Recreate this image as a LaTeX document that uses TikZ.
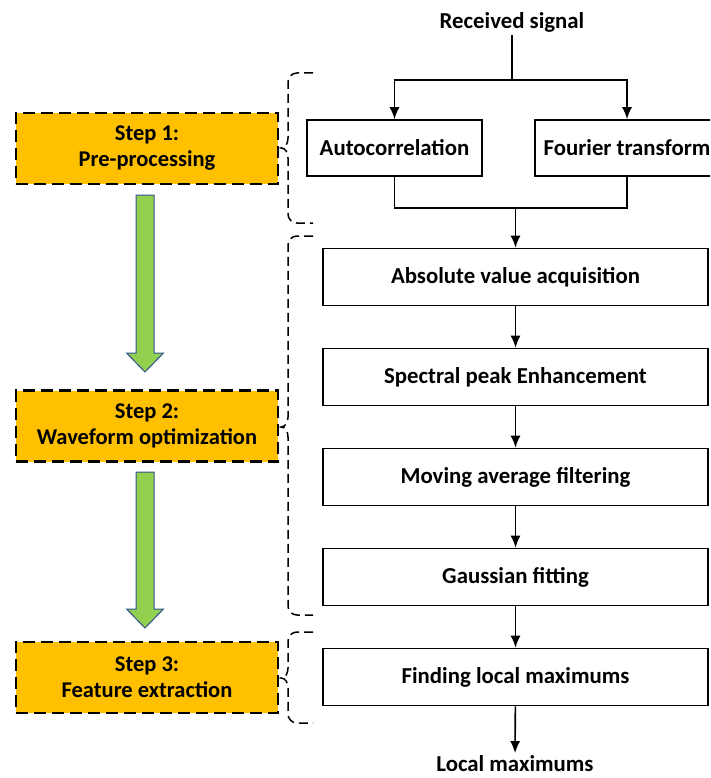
\documentclass[tikz,border=0pt]{standalone}
\usepackage{fontspec}
\setmainfont{Carlito}
\usetikzlibrary{arrows.meta,positioning}
\definecolor{stepgold}{HTML}{FFC000}
\definecolor{arrowgreen}{HTML}{92D050}
\definecolor{arrowedge}{HTML}{2F528F}

\begin{document}
\begin{tikzpicture}[x=1pt,y=-1pt,
    node distance=41.4pt,
    proc/.style={draw,line width=1.6pt,minimum width=385pt,minimum height=57pt,
      align=center,font=\bfseries\fontsize{22.8}{26}\selectfont},
    stepbox/.style={draw,fill=stepgold,line width=2.8pt,dash pattern=on 12pt off 6pt,
      minimum width=262pt,minimum height=71pt,align=center,
      font=\bfseries\fontsize{22.5}{26}\selectfont},
    lbl/.style={inner sep=2pt,font=\bfseries\fontsize{22.8}{26}\selectfont},
    bracket/.style={line width=1.5pt,dash pattern=on 9pt off 5pt},
    line width=1.6pt,
    >={Latex[length=12pt,width=10pt]}]
  \useasboundingbox (0,0) rectangle (710,778);
  \clip (0,0) rectangle (710,778);
  % steps on the left
  \node[stepbox] (step1) at (147,148.5) {Step 1:\\Pre-processing};
  \node[stepbox] (step2) at (147,426) {Step 2:\\Waveform optimization};
  \node[stepbox] (step3) at (147,677.5) {Step 3:\\Feature extraction};
  \foreach \top/\tip in {195/372, 472/628}
    \filldraw[fill=arrowgreen,draw=arrowedge,line width=1pt]
      (136,\top) -- (154,\top) -- (154,{\tip-19}) -- (163.5,{\tip-19}) -- (145,\tip)
      -- (126.5,{\tip-19}) -- (136,{\tip-19}) -- cycle;
  % brackets
  \foreach \top/\mid/\bot in {73/148/223, 236/427/615, 632/678/723}
    \draw[bracket] (313,\top) -- (297,\top) to[out=180,in=90] (288,{\top+9})
      -- (288,{\mid-10}) to[out=-90,in=0] (281,\mid) to[out=0,in=90] (288,{\mid+10})
      -- (288,{\bot-9}) to[out=-90,in=180] (297,\bot) -- (313,\bot);
  % processing chain
  \node[lbl] (rcv) at (512,22) {Received signal};
  \node[proc,minimum width=175pt,minimum height=56pt] (auto) at (394.5,148) {Autocorrelation};
  \node[proc,minimum width=184pt,minimum height=56pt] (fourier) at (627,148) {Fourier transform};
  \node[proc] (absval) at (515.5,277) {Absolute value acquisition};
  \node[proc,below=of absval] (peak) {Spectral peak Enhancement};
  \node[proc,below=of peak] (movavg) {Moving average filtering};
  \node[proc,below=of movavg] (gauss) {Gaussian fitting};
  \node[proc,below=of gauss] (findmax) {Finding local maximums};
  \node[lbl] (localmax) at (515,764) {Local maximums};
  \coordinate (split) at (512,80);
  \coordinate (merge) at (515.5,208);
  \draw (rcv) -- (split);
  \draw[->] (split) -| (auto);
  \draw[->] (split) -| (fourier);
  \draw (auto) |- (merge);
  \draw (fourier) |- (merge);
  \draw[->] (merge) -- (absval);
  \draw[->] (absval) -- (peak);
  \draw[->] (peak) -- (movavg);
  \draw[->] (movavg) -- (gauss);
  \draw[->] (gauss) -- (findmax);
  \draw[->] (findmax) -- (localmax);
\end{tikzpicture}
\end{document}
